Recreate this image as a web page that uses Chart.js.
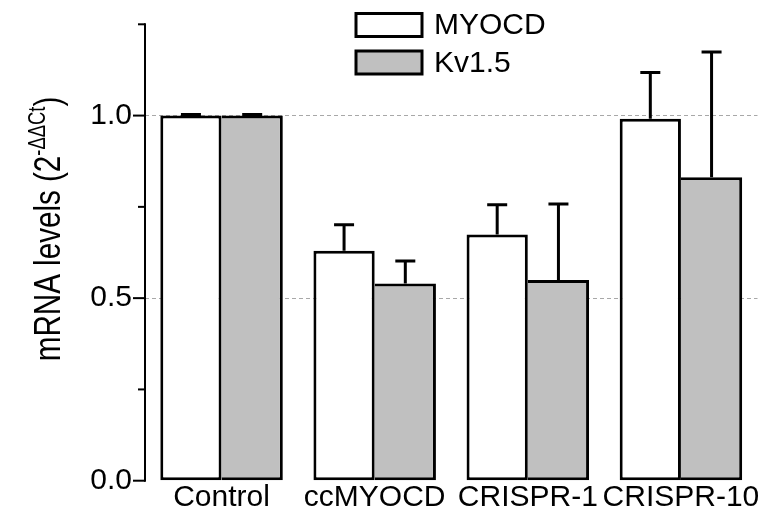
<!DOCTYPE html>
<html>
<head>
<meta charset="utf-8">
<script src="https://cdn.jsdelivr.net/npm/chart.js@4.4.1/dist/chart.umd.min.js"></script>
<style>
  html, body { margin: 0; padding: 0; background: #ffffff; }
  #wrap { width: 768px; height: 513px; }
</style>
</head>
<body>
<div id="wrap"><canvas id="c" width="768" height="513"></canvas></div>
<script>
// ---- data ----
const categories = ["Control", "ccMYOCD", "CRISPR-1", "CRISPR-10"];
const seriesNames = ["MYOCD", "Kv1.5"];
const myocdValues = [1.0, 0.630, 0.674, 0.991];
const myocdErrors = [0.003, 0.071, 0.082, 0.127];
const kvValues = [1.0, 0.540, 0.550, 0.831];
const kvErrors = [0.003, 0.062, 0.208, 0.343];
const yLabelValues = [0, 0.5, 1.0];
const yTitleMain = "mRNA levels (2";
const yTitleSup = "-ΔΔCt";
const yTitleEnd = ")";

const FONT = '"Liberation Sans", Arial, Helvetica, sans-serif';
const errorsByDataset = [myocdErrors, kvErrors];

const errorBarPlugin = {
  id: 'errorBars',
  afterDatasetsDraw(chart) {
    const ctx = chart.ctx;
    const y = chart.scales.y;
    ctx.save();
    ctx.strokeStyle = '#000';
    ctx.lineWidth = 3;
    ctx.lineCap = 'butt';
    chart.data.datasets.forEach((ds, di) => {
      const meta = chart.getDatasetMeta(di);
      meta.data.forEach((bar, i) => {
        const v = ds.data[i];
        const e = errorsByDataset[di][i];
        const yTop = y.getPixelForValue(v + e);
        const yBar = y.getPixelForValue(v);
        ctx.beginPath();
        ctx.moveTo(bar.x, yBar);
        ctx.lineTo(bar.x, yTop);
        ctx.moveTo(bar.x - 10, yTop);
        ctx.lineTo(bar.x + 10, yTop);
        ctx.stroke();
      });
    });
    ctx.restore();
  }
};

const axisPlugin = {
  id: 'axisDecor',
  afterDraw(chart) {
    const ctx = chart.ctx;
    const y = chart.scales.y;
    const area = chart.chartArea;
    const ax = area.left;
    ctx.save();
    ctx.strokeStyle = '#000';
    ctx.lineWidth = 2;
    ctx.beginPath();
    ctx.moveTo(ax, y.getPixelForValue(y.max) - 1);
    ctx.lineTo(ax, y.getPixelForValue(0) + 1);
    ctx.stroke();
    y.ticks.forEach(t => {
      const p = y.getPixelForValue(t.value);
      const major = yLabelValues.some(v => Math.abs(v - t.value) < 1e-6);
      ctx.beginPath();
      ctx.moveTo(ax - (major ? 12 : 7), p);
      ctx.lineTo(ax, p);
      ctx.stroke();
    });

    // y axis title with superscript (condensed, tall)
    ctx.fillStyle = '#000';
    ctx.textBaseline = 'alphabetic';
    ctx.textAlign = 'left';
    const mainFont = '37px ' + FONT;
    const supFont = '23px ' + FONT;
    const sx = 0.8;
    ctx.font = mainFont;
    const w1 = ctx.measureText(yTitleMain).width;
    const w3 = ctx.measureText(yTitleEnd).width;
    ctx.font = supFont;
    const w2 = ctx.measureText(yTitleSup).width;
    const total = (w1 + w2 + w3) * sx;
    const centerY = 229;
    ctx.translate(60, centerY + total / 2);
    ctx.rotate(-Math.PI / 2);
    ctx.scale(sx, 1);
    ctx.font = mainFont;
    ctx.fillText(yTitleMain, 0, 0);
    ctx.font = supFont;
    ctx.fillText(yTitleSup, w1, -15);
    ctx.font = mainFont;
    ctx.fillText(yTitleEnd, w1 + w2, 0);
    ctx.setTransform(1, 0, 0, 1, 0, 0);

    // legend
    const boxX = 356, boxW = 66, boxH = 23;
    const rows = [{ y: 13.5 }, { y: 51 }];
    chart.data.datasets.forEach((ds, di) => {
      const ry = rows[di].y;
      ctx.fillStyle = ds.backgroundColor;
      ctx.fillRect(boxX, ry, boxW, boxH);
      ctx.strokeStyle = '#000';
      ctx.lineWidth = 3;
      ctx.strokeRect(boxX, ry, boxW, boxH);
      ctx.fillStyle = '#000';
      ctx.font = '30px ' + FONT;
      ctx.textBaseline = 'middle';
      ctx.fillText(ds.label, 434, ry + boxH / 2 + 1);
    });
    ctx.restore();
  }
};

new Chart(document.getElementById('c'), {
  type: 'bar',
  data: {
    labels: categories,
    datasets: [
      {
        label: seriesNames[0],
        data: myocdValues,
        backgroundColor: '#ffffff',
        borderColor: '#000000',
        borderWidth: 3,
        borderSkipped: false,
        categoryPercentage: 0.8,
        barPercentage: 1.0
      },
      {
        label: seriesNames[1],
        data: kvValues,
        backgroundColor: '#c0c0c0',
        borderColor: '#000000',
        borderWidth: { top: 3, right: 3, bottom: 3, left: 0 },
        borderSkipped: false,
        categoryPercentage: 0.8,
        barPercentage: 1.0
      }
    ]
  },
  options: {
    responsive: false,
    animation: false,
    devicePixelRatio: 1,
    layout: { padding: { left: 0, right: 10.5, top: 24.3, bottom: 0 } },
    plugins: {
      legend: { display: false },
      tooltip: { enabled: false },
      title: { display: false }
    },
    scales: {
      x: {
        offset: true,
        grid: { display: false, drawTicks: false },
        border: { display: false },
        ticks: {
          color: '#000',
          font: { family: FONT, size: 30 },
          padding: -1,
          maxRotation: 0,
          autoSkip: false
        },
        afterFit(scale) {
          scale.height = 513 - 480.7;
          scale.paddingLeft = 0; scale.paddingRight = 0;
        }
      },
      y: {
        min: 0,
        max: 1.25,
        grid: {
          drawTicks: false,
          color: (ctx) => {
            const v = ctx.tick ? ctx.tick.value : null;
            return (v !== null && (Math.abs(v - 0.5) < 1e-6 || Math.abs(v - 1.0) < 1e-6)) ? '#a8a8a8' : 'rgba(0,0,0,0)';
          },
          lineWidth: 1
        },
        border: { display: false, dash: [4, 3] },
        ticks: {
          stepSize: 0.25,
          color: '#000',
          font: { family: FONT, size: 30 },
          padding: 13,
          callback: (value) => yLabelValues.some(v => Math.abs(v - value) < 1e-6) ? Number(value).toFixed(1) : ''
        },
        afterFit(scale) {
          scale.width = 145;
          scale.paddingTop = 0; scale.paddingBottom = 0;
        }
      }
    }
  },
  plugins: [errorBarPlugin, axisPlugin]
});
</script>
</body>
</html>
